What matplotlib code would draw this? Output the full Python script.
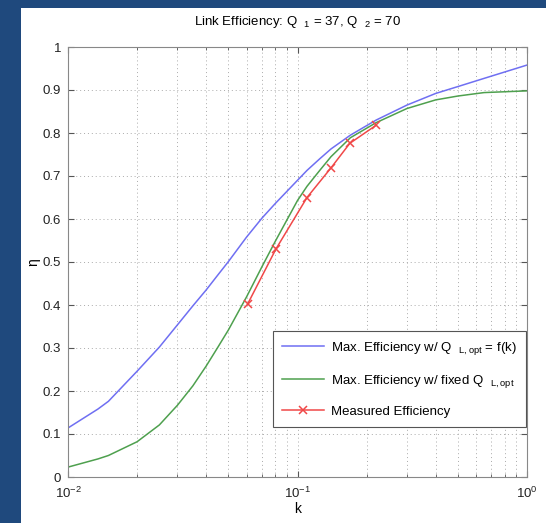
import numpy as np
import matplotlib
matplotlib.use("Agg")
import matplotlib.pyplot as plt
from matplotlib.patches import Rectangle
from matplotlib.ticker import FixedLocator, LogLocator, NullFormatter

# values
k_curve = [0.01, 0.0135, 0.015, 0.02, 0.025, 0.03, 0.035, 0.04, 0.045, 0.05, 0.06,
           0.07, 0.08, 0.1, 0.11, 0.125, 0.14, 0.17, 0.22, 0.3, 0.4, 0.5, 0.65, 1.0]
eta_opt = [0.114, 0.158, 0.176, 0.246, 0.302, 0.354, 0.398, 0.435, 0.470, 0.501, 0.558,
           0.602, 0.636, 0.690, 0.713, 0.740, 0.763, 0.795, 0.830, 0.865, 0.892, 0.908,
           0.927, 0.958]
eta_fixed = [0.023, 0.042, 0.050, 0.082, 0.121, 0.167, 0.212, 0.258, 0.302, 0.342, 0.419,
             0.489, 0.548, 0.643, 0.676, 0.713, 0.745, 0.789, 0.824, 0.857, 0.877, 0.886,
             0.894, 0.898]

k_meas = [0.0606, 0.0805, 0.110, 0.140, 0.169, 0.220]
eta_meas = [0.402, 0.530, 0.650, 0.719, 0.776, 0.818]

x_ticks = [0.01, 0.1, 1]
x_ticklabels = ["$10^{-2}$", "$10^{-1}$", "$10^{0}$"]
y_ticks = [0, 0.1, 0.2, 0.3, 0.4, 0.5, 0.6, 0.7, 0.8, 0.9, 1]
y_ticklabels = ["0", "0.1", "0.2", "0.3", "0.4", "0.5", "0.6", "0.7", "0.8", "0.9", "1"]

labels = ["Max. Efficiency w/ Q  $_{\\mathrm{L,opt}}$ = f(k)",
          "Max. Efficiency w/ fixed Q  $_{\\mathrm{L,opt}}$",
          "Measured Efficiency"]

plt.rcParams['font.family'] = ['Liberation Sans', 'DejaVu Sans']
plt.rcParams['mathtext.fontset'] = 'custom'
plt.rcParams['mathtext.rm'] = 'Liberation Sans'

fig = plt.figure(figsize=(5.46, 5.23), dpi=100, facecolor="#1f497d")
# white slide panel behind the chart
panel = Rectangle((21 / 546, 0), 1, 1 - 8 / 523, transform=fig.transFigure,
                  facecolor="white", edgecolor="none", zorder=-10)
fig.add_artist(panel)

ax = fig.add_axes([68 / 546, 1 - 477 / 523, (527 - 68) / 546, (477 - 47) / 523])
ax.plot(k_curve, eta_opt, color="#6f6ff2", lw=1.1, label=labels[0])
ax.plot(k_curve, eta_fixed, color="#4ea04e", lw=1.1, label=labels[1])
ax.plot(k_meas, eta_meas, color="#f04848", lw=1.1, marker="x", ms=6, mew=1.1,
        label=labels[2])

ax.set_xscale("log")
ax.set_xlim(0.01, 1)
ax.set_ylim(0, 1)
ax.yaxis.set_major_locator(FixedLocator(y_ticks))
ax.set_yticklabels(y_ticklabels)
ax.xaxis.set_major_locator(FixedLocator(x_ticks))
ax.set_xticklabels(x_ticklabels)
ax.xaxis.set_minor_locator(LogLocator(base=10, subs=np.arange(2, 10)))
ax.xaxis.set_minor_formatter(NullFormatter())
ax.tick_params(direction="in", which="both", top=True, right=True, labelsize=9.5,
               colors="#555555", labelcolor="#222222")
ax.tick_params(which="major", length=4)
ax.tick_params(which="minor", length=2)
ax.tick_params(axis="x", pad=6)
ax.tick_params(axis="y", pad=5)

ax.grid(True, which="both", linestyle=(0, (1, 3)), color="#aaaaaa", lw=0.7)
for s in ax.spines.values():
    s.set_color("#888888")

ax.set_title("Link Efficiency: Q  $_1$ = 37, Q  $_2$ = 70", fontsize=9.5, pad=16)
ax.set_xlabel("k", fontsize=10, labelpad=1)
ax.set_ylabel("η", fontsize=10, labelpad=2, rotation=90)

leg = ax.legend(loc="lower right", bbox_to_anchor=(0.997, 0.116), borderaxespad=0,
                fontsize=9.5, fancybox=False, framealpha=1, edgecolor="#555555",
                handlelength=3.2, handletextpad=0.5, borderpad=0.7, labelspacing=1.2)
leg.get_frame().set_linewidth(0.8)

fig.savefig("out.png", dpi=100, facecolor=fig.get_facecolor())
